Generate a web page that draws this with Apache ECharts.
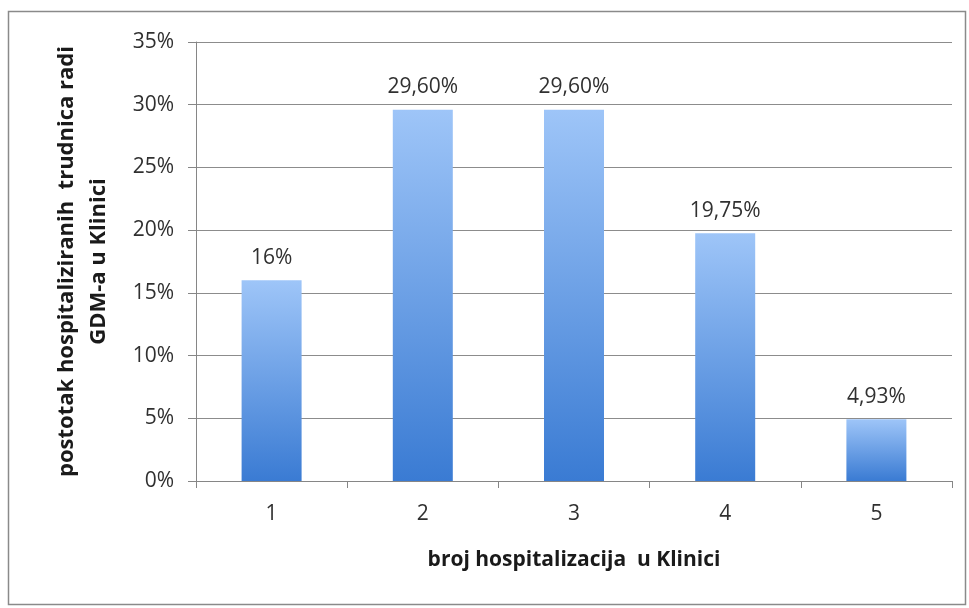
<!DOCTYPE html>
<html><head><meta charset="utf-8">
<script src="https://cdn.jsdelivr.net/npm/echarts@6/dist/echarts.min.js"></script>
<style>html,body{margin:0;padding:0;background:#fff}#c{width:969px;height:608px}</style>
</head><body><div id="c"></div>
<script>
const categories = ['1','2','3','4','5'];
const values = [16, 29.6, 29.6, 19.75, 4.93];
const valueLabels = ['16%','29,60%','29,60%','19,75%','4,93%'];
const yTicks = [0,5,10,15,20,25,30,35];
const xName = 'broj hospitalizacija  u Klinici';
const yName = 'postotak hospitaliziranih  trudnica radi\nGDM-a u Klinici';

const chart = echarts.init(document.getElementById('c'));
const font = '"Open Sans", "DejaVu Sans", sans-serif';
chart.setOption({
  animation:false,
  graphic:[{type:'rect',shape:{x:8.5,y:11.5,width:957,height:593},style:{fill:'none',stroke:'#8a8a8a',lineWidth:1.5},z:-1}],
  grid:{left:196,right:17,top:42,bottom:127},
  xAxis:{type:'category',data:categories,
    axisLine:{lineStyle:{color:'#868686'}},
    axisTick:{show:true,length:7,lineStyle:{color:'#868686'}},
    axisLabel:{color:'#303030',fontSize:21,fontFamily:font,margin:23},
    name:xName,nameLocation:'middle',nameGap:69,
    nameTextStyle:{fontSize:21,fontWeight:'bold',color:'#1a1a1a',fontFamily:font}
  },
  yAxis:{type:'value',min:0,max:35,interval:5,
    axisLine:{show:true,lineStyle:{color:'#868686'}},
    axisTick:{show:true,length:8,lineStyle:{color:'#868686'}},
    splitLine:{lineStyle:{color:'#8c8c8c'}},
    axisLabel:{color:'#303030',fontSize:21,fontFamily:font,margin:22,formatter:v=>v+'%'},
    name:yName,nameLocation:'middle',nameGap:81,nameRotate:90,
    nameTextStyle:{fontSize:22,fontWeight:'bold',color:'#1a1a1a',fontFamily:font,lineHeight:32,align:'center'}
  },
  series:[{type:'bar',data:values,barWidth:60,
    itemStyle:{color:new echarts.graphic.LinearGradient(0,0,0,1,[{offset:0,color:'#9ec5f8'},{offset:1,color:'#3a7bd3'}])},
    label:{show:true,position:'top',distance:12,color:'#303030',fontSize:21,fontFamily:font,
      formatter:p=>valueLabels[p.dataIndex]}
  }]
});
</script></body></html>
